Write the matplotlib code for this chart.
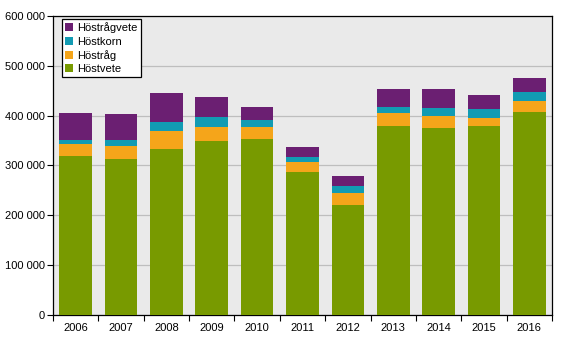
import matplotlib
matplotlib.use('Agg')
import matplotlib.pyplot as plt
import numpy as np
from matplotlib.ticker import FuncFormatter, MultipleLocator

plt.rcParams['font.family'] = ['Liberation Sans', 'DejaVu Sans']
plt.rcParams['font.size'] = 8

years = ['2006', '2007', '2008', '2009', '2010', '2011', '2012', '2013', '2014', '2015', '2016']
hostvete = [320000, 314000, 334000, 350000, 354000, 286000, 220000, 380000, 376000, 380000, 408000]
hostrag = [24000, 26000, 36000, 28000, 24000, 22000, 24000, 26000, 24000, 16000, 22000]
hostkorn = [8000, 12000, 18000, 20000, 14000, 10000, 14000, 12000, 16000, 18000, 18000]
hostragvete = [54000, 52000, 58000, 40000, 26000, 20000, 20000, 36000, 38000, 28000, 28000]

series = [('Höstvete', hostvete, '#789a00'),
          ('Höstråg', hostrag, '#f5a51a'),
          ('Höstkorn', hostkorn, '#129bb3'),
          ('Höstrågvete', hostragvete, '#6b1f72')]

fig = plt.figure(figsize=(5.67, 3.4), dpi=100)
ax = fig.add_axes([0.0935, 0.0735, 0.88, 0.8795])
ax.set_facecolor('#eaeaea')

x = np.arange(len(years))
bottom = np.zeros(len(years))
handles = []
for name, vals, col in series:
    b = ax.bar(x, vals, 0.72, bottom=bottom, color=col, label=name, zorder=3)
    handles.append(b)
    bottom += np.array(vals)

ax.set_xlim(-0.5, len(years) - 0.5)
ax.set_ylim(0, 600000)
ax.yaxis.set_major_locator(MultipleLocator(100000))
ax.yaxis.set_major_formatter(FuncFormatter(lambda v, p: f'{int(v):,}'.replace(',', ' ')))
ax.grid(axis='y', color='#bebebe', linewidth=0.9, zorder=0)

# year labels centred, tick marks between the bars
ax.set_xticks(x)
ax.set_xticklabels(years)
ax.tick_params(axis='x', which='major', length=0, pad=6)
ax.set_xticks(np.arange(-0.5, len(years)), minor=True)
ax.tick_params(axis='x', which='minor', length=4, direction='out', width=0.8)
ax.tick_params(axis='y', length=4, direction='out', width=0.8, pad=2)

for s in ax.spines.values():
    s.set_color('black')
    s.set_linewidth(0.9)

leg = ax.legend(handles[::-1], [s[0] for s in series][::-1], loc='upper left',
                bbox_to_anchor=(0.018, 0.99), frameon=True, fancybox=False,
                edgecolor='black', framealpha=1, handlelength=0.7, handleheight=0.7,
                handletextpad=0.4, borderpad=0.3, labelspacing=0.3, borderaxespad=0)
leg.get_frame().set_linewidth(0.9)

fig.savefig('out.png', dpi=100)
